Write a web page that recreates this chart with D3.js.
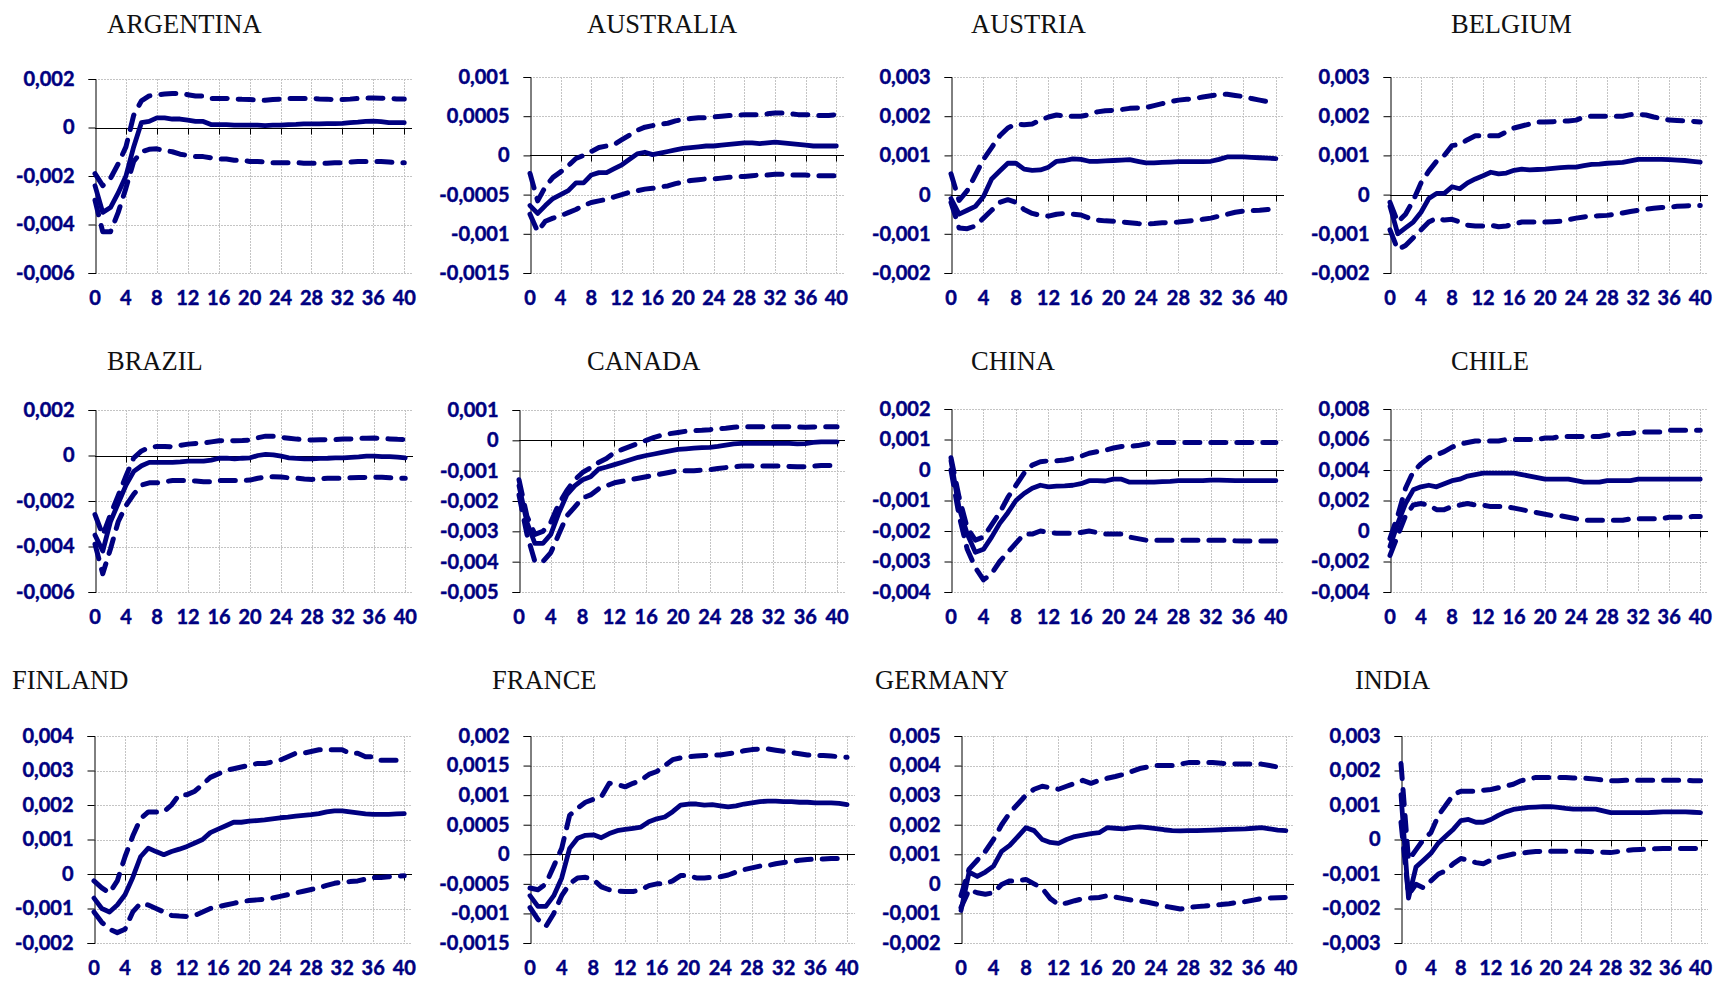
<!DOCTYPE html>
<html>
<head>
<meta charset="utf-8">
<script src="https://cdn.jsdelivr.net/npm/d3@7"></script>
<style>
  html, body { margin: 0; padding: 0; background: #fff; }
  svg { display: block; }
</style>
</head>
<body>
<svg id="chart" width="1720" height="981"></svg>
<script>
// Impulse responses by country: point estimate (solid) and confidence bands (dashed), horizons 0..40
const countries = ["ARGENTINA", "AUSTRALIA", "AUSTRIA", "BELGIUM", "BRAZIL", "CANADA", "CHINA", "CHILE", "FINLAND", "FRANCE", "GERMANY", "INDIA"];
const horizons = d3.range(0, 41);
const xTickValues = [0, 4, 8, 12, 16, 20, 24, 28, 32, 36, 40];
const yDomains = [
  [-0.006, 0.002], [-0.0015, 0.001], [-0.002, 0.003], [-0.002, 0.003],
  [-0.006, 0.002], [-0.005, 0.001], [-0.004, 0.002], [-0.004, 0.008],
  [-0.002, 0.004], [-0.0015, 0.002], [-0.002, 0.005], [-0.003, 0.003]
];
const yTickSteps = [0.002, 0.0005, 0.001, 0.001, 0.002, 0.001, 0.001, 0.002, 0.001, 0.0005, 0.001, 0.001];

const argentinaMean = [-0.0024,-0.0035,-0.0033,-0.0027,-0.002,-0.0008,0.0002,0.00025,0.0004,0.0004,0.00035,0.00035,0.0003,0.00025,0.00025,0.00012,0.00012,0.00012,0.0001,0.0001,0.0001,0.0001,0.00008,0.0001,0.0001,0.00012,0.00013,0.00015,0.00015,0.00015,0.00016,0.00016,0.00017,0.0002,0.00022,0.00025,0.00026,0.00024,0.0002,0.0002,0.0002];
const argentinaUpper = [-0.0019,-0.0024,-0.0021,-0.0015,-0.0008,0.0005,0.0011,0.0013,0.00135,0.00138,0.0014,0.0014,0.00135,0.0013,0.0013,0.0012,0.0012,0.0012,0.00118,0.00116,0.00115,0.00113,0.00112,0.00115,0.00117,0.0012,0.0012,0.0012,0.0012,0.00118,0.00117,0.00115,0.00115,0.00117,0.0012,0.00121,0.00122,0.00121,0.0012,0.00118,0.00118];
const argentinaLower = [-0.003,-0.0043,-0.0043,-0.0035,-0.0025,-0.0014,-0.001,-0.0009,-0.00088,-0.00095,-0.001,-0.0011,-0.00115,-0.0012,-0.0012,-0.00125,-0.0013,-0.0013,-0.00135,-0.00135,-0.0014,-0.0014,-0.00142,-0.00145,-0.00145,-0.00145,-0.00145,-0.00147,-0.00147,-0.00147,-0.00147,-0.00145,-0.00145,-0.00143,-0.0014,-0.0014,-0.0014,-0.0014,-0.00142,-0.00145,-0.00145];

const australiaMean = [-0.00064,-0.00074,-0.00064,-0.00055,-0.0005,-0.00045,-0.00035,-0.00035,-0.00025,-0.00022,-0.00022,-0.00017,-0.00012,-0.00005,0.00002,0.00004,0.00001,0.00003,0.00005,0.00007,0.00009,0.0001,0.00011,0.00012,0.00012,0.00013,0.00014,0.00015,0.00016,0.00016,0.00015,0.00016,0.00017,0.00016,0.00015,0.00014,0.00013,0.00012,0.00012,0.00012,0.00012];
const australiaUpper = [-0.00023,-0.00058,-0.0004,-0.00028,-0.00021,-0.00013,-0.00004,0,0.00005,0.0001,0.00012,0.00014,0.0002,0.00026,0.00032,0.00036,0.00038,0.0004,0.00041,0.00044,0.00046,0.00047,0.00048,0.00048,0.00049,0.0005,0.00051,0.00051,0.00052,0.00052,0.00052,0.00053,0.00054,0.00054,0.00053,0.00052,0.00052,0.00051,0.00051,0.00051,0.00052];
const australiaLower = [-0.00075,-0.00097,-0.00084,-0.0008,-0.00077,-0.00073,-0.00069,-0.00064,-0.0006,-0.00058,-0.00056,-0.00053,-0.0005,-0.00047,-0.00045,-0.00043,-0.00042,-0.0004,-0.00039,-0.00036,-0.00034,-0.00032,-0.00031,-0.0003,-0.0003,-0.00029,-0.00028,-0.00027,-0.00027,-0.00026,-0.00025,-0.00025,-0.00024,-0.00024,-0.00025,-0.00025,-0.00025,-0.00026,-0.00026,-0.00026,-0.00026];

const austriaMean = [-0.0001,-0.0005,-0.0004,-0.0003,-0.00005,0.0004,0.0006,0.0008,0.0008,0.00065,0.00062,0.00063,0.0007,0.00085,0.00087,0.00091,0.0009,0.00085,0.00085,0.00086,0.00087,0.00088,0.00089,0.00085,0.00081,0.00081,0.00082,0.00083,0.00084,0.00084,0.00084,0.00084,0.00085,0.0009,0.00096,0.00096,0.00096,0.00095,0.00094,0.00093,0.00092];
const austriaUpper = [0.00053,-0.00015,0.0001,0.0005,0.0009,0.0012,0.0015,0.0017,0.0018,0.00178,0.0018,0.0019,0.00198,0.00203,0.002,0.002,0.002,0.00204,0.00211,0.00214,0.00215,0.00217,0.0022,0.00221,0.00222,0.00227,0.00232,0.00237,0.00241,0.00243,0.00245,0.00249,0.00252,0.00255,0.00256,0.00253,0.0025,0.00245,0.00241,0.00237,0.00234];
const austriaLower = [-0.0002,-0.00085,-0.00087,-0.0008,-0.0006,-0.0004,-0.0002,-0.00013,-0.0002,-0.00038,-0.00048,-0.00053,-0.00055,-0.0005,-0.00048,-0.0005,-0.00052,-0.0006,-0.00065,-0.00067,-0.00068,-0.0007,-0.00072,-0.00074,-0.00075,-0.00074,-0.00072,-0.00071,-0.0007,-0.00068,-0.00066,-0.00063,-0.0006,-0.00055,-0.0005,-0.00045,-0.00042,-0.00041,-0.0004,-0.00038,-0.00036];

const belgiumMean = [-0.0003,-0.001,-0.00085,-0.0007,-0.00045,-0.0001,0.00003,0.00003,0.0002,0.00015,0.0003,0.0004,0.00048,0.00057,0.00053,0.00055,0.00062,0.00065,0.00063,0.00064,0.00065,0.00067,0.00069,0.0007,0.0007,0.00074,0.00077,0.00078,0.0008,0.00081,0.00082,0.00086,0.0009,0.0009,0.0009,0.0009,0.00089,0.00088,0.00087,0.00085,0.00083];
const belgiumUpper = [-0.0002,-0.0007,-0.0005,-0.00015,0.0003,0.0006,0.00085,0.001,0.00125,0.00128,0.0014,0.0015,0.0015,0.0015,0.0015,0.0016,0.0017,0.00175,0.0018,0.00185,0.00185,0.00186,0.00187,0.00188,0.0019,0.00198,0.002,0.002,0.002,0.002,0.002,0.00204,0.00205,0.00203,0.00198,0.00194,0.0019,0.00189,0.00188,0.00187,0.00185];
const belgiumLower = [-0.0009,-0.0014,-0.0013,-0.0011,-0.0009,-0.0007,-0.0006,-0.00065,-0.00063,-0.0007,-0.00078,-0.0008,-0.0008,-0.00078,-0.00082,-0.0008,-0.00075,-0.0007,-0.0007,-0.0007,-0.0007,-0.00069,-0.00068,-0.00064,-0.0006,-0.00057,-0.00055,-0.00054,-0.00053,-0.0005,-0.00047,-0.00043,-0.0004,-0.00037,-0.00035,-0.00033,-0.00032,-0.0003,-0.00029,-0.00028,-0.00028];

const brazilMean = [-0.0035,-0.0042,-0.0029,-0.0021,-0.0013,-0.0007,-0.00045,-0.0003,-0.0003,-0.0003,-0.0003,-0.00028,-0.00025,-0.00025,-0.00025,-0.0002,-0.00012,-0.00012,-0.00015,-0.00012,-0.0001,0,0.00005,0.00003,-0.00003,-0.0001,-0.00013,-0.00015,-0.00015,-0.00013,-0.00012,-0.0001,-0.0001,-0.00008,-0.00006,-0.00003,-0.00003,-0.00005,-0.00005,-0.00007,-0.0001];
const brazilUpper = [-0.0026,-0.0035,-0.0026,-0.00175,-0.0009,-0.0001,0.0002,0.00035,0.0004,0.0004,0.00038,0.00045,0.0005,0.00053,0.00055,0.0006,0.00065,0.00066,0.00065,0.00066,0.00068,0.00078,0.00085,0.00085,0.0008,0.00076,0.00072,0.0007,0.00068,0.00069,0.0007,0.0007,0.00072,0.00073,0.00075,0.00076,0.00077,0.00075,0.00073,0.00071,0.0007];
const brazilLower = [-0.0039,-0.0052,-0.0041,-0.0029,-0.0022,-0.0017,-0.0013,-0.0012,-0.0012,-0.00115,-0.0011,-0.0011,-0.0011,-0.00112,-0.00115,-0.00115,-0.0011,-0.0011,-0.0011,-0.0011,-0.00108,-0.001,-0.00095,-0.00093,-0.00095,-0.00098,-0.001,-0.00103,-0.00105,-0.00103,-0.001,-0.001,-0.001,-0.00098,-0.00097,-0.00096,-0.00095,-0.00096,-0.00098,-0.001,-0.001];

const canadaMean = [-0.0015,-0.0027,-0.0034,-0.0034,-0.0031,-0.0024,-0.0018,-0.0015,-0.0013,-0.0012,-0.00095,-0.00088,-0.0008,-0.00072,-0.00064,-0.00056,-0.0005,-0.00045,-0.0004,-0.00035,-0.0003,-0.00028,-0.00026,-0.00024,-0.00023,-0.0002,-0.00016,-0.00012,-0.0001,-0.0001,-0.0001,-0.0001,-0.0001,-0.0001,-0.0001,-0.00012,-0.00011,-0.00007,-0.00005,-0.00005,-0.00005];
const canadaUpper = [-0.0013,-0.0025,-0.0031,-0.003,-0.0027,-0.0021,-0.00166,-0.0013,-0.00106,-0.0009,-0.00073,-0.0006,-0.0004,-0.0003,-0.0002,-0.0001,0,0.0001,0.00017,0.00022,0.00026,0.0003,0.00032,0.00033,0.00035,0.00038,0.0004,0.00043,0.00045,0.00045,0.00045,0.00045,0.00045,0.00045,0.00045,0.00044,0.00043,0.00044,0.00045,0.00045,0.00045];
const canadaLower = [-0.0018,-0.0031,-0.004,-0.004,-0.0037,-0.0031,-0.0025,-0.0022,-0.0019,-0.0018,-0.0016,-0.0015,-0.0014,-0.00135,-0.0013,-0.00125,-0.0012,-0.00115,-0.0011,-0.00105,-0.001,-0.001,-0.001,-0.00098,-0.00097,-0.00093,-0.0009,-0.00087,-0.00085,-0.00085,-0.00085,-0.00085,-0.00085,-0.00085,-0.00086,-0.00087,-0.00087,-0.00085,-0.00083,-0.00083,-0.00083];

const chinaMean = [0.0003,-0.00125,-0.0021,-0.0027,-0.0026,-0.0022,-0.00175,-0.0014,-0.001,-0.00077,-0.0006,-0.0005,-0.00055,-0.00053,-0.00052,-0.0005,-0.00045,-0.00035,-0.00035,-0.00036,-0.0003,-0.0003,-0.0004,-0.0004,-0.0004,-0.0004,-0.00038,-0.00037,-0.00035,-0.00035,-0.00035,-0.00035,-0.00033,-0.00033,-0.00034,-0.00035,-0.00035,-0.00035,-0.00035,-0.00035,-0.00035];
const chinaUpper = [0.0004,-0.0009,-0.0019,-0.0023,-0.0022,-0.0018,-0.0014,-0.0009,-0.0005,-0.0001,0.00016,0.00027,0.0003,0.0003,0.00033,0.00038,0.00045,0.00055,0.0006,0.00065,0.00072,0.00077,0.00078,0.0008,0.00085,0.0009,0.0009,0.0009,0.0009,0.0009,0.0009,0.0009,0.0009,0.0009,0.0009,0.0009,0.0009,0.0009,0.0009,0.0009,0.0009];
const chinaLower = [0,-0.0015,-0.0026,-0.0032,-0.0036,-0.0034,-0.003,-0.0027,-0.0024,-0.0021,-0.0021,-0.002,-0.00205,-0.00207,-0.00207,-0.00207,-0.00205,-0.002,-0.00205,-0.0021,-0.0021,-0.0021,-0.0022,-0.00225,-0.0023,-0.0023,-0.0023,-0.0023,-0.0023,-0.0023,-0.0023,-0.0023,-0.0023,-0.0023,-0.0023,-0.00232,-0.00233,-0.00233,-0.00233,-0.00233,-0.00233];

const chileMean = [-0.001,0.0005,0.0018,0.0027,0.0029,0.003,0.0029,0.0031,0.0033,0.0034,0.0036,0.0037,0.0038,0.0038,0.0038,0.0038,0.0038,0.0037,0.0036,0.0035,0.0034,0.0034,0.0034,0.0034,0.0033,0.0032,0.0032,0.0032,0.0033,0.0033,0.0033,0.0033,0.0034,0.0034,0.0034,0.0034,0.0034,0.0034,0.0034,0.0034,0.0034];
const chileUpper = [-0.0005,0.001,0.0028,0.0039,0.0044,0.0048,0.005,0.0052,0.0055,0.0057,0.0058,0.0059,0.0059,0.0059,0.0059,0.006,0.006,0.006,0.006,0.006,0.0061,0.0061,0.0062,0.0062,0.0062,0.0062,0.0062,0.0062,0.0063,0.0063,0.0064,0.0064,0.0065,0.0065,0.0065,0.0065,0.0066,0.0066,0.0066,0.0066,0.0066];
const chileLower = [-0.0016,-0.0003,0.001,0.0017,0.0018,0.0017,0.0014,0.0014,0.0016,0.0017,0.0018,0.0017,0.0017,0.0016,0.0016,0.0016,0.0015,0.0014,0.0013,0.0012,0.0011,0.001,0.001,0.0009,0.0008,0.0007,0.0007,0.0007,0.0007,0.0007,0.0007,0.0008,0.0008,0.0008,0.0008,0.0008,0.0009,0.0009,0.0009,0.00095,0.00095];

const finlandMean = [-0.0007,-0.001,-0.0011,-0.0009,-0.0006,-0.0001,0.0005,0.00075,0.00065,0.00056,0.00065,0.00072,0.0008,0.0009,0.001,0.0012,0.0013,0.0014,0.0015,0.0015,0.00153,0.00155,0.00157,0.0016,0.00163,0.00165,0.00168,0.0017,0.00172,0.00175,0.0018,0.00183,0.00183,0.0018,0.00177,0.00174,0.00173,0.00173,0.00173,0.00174,0.00175];
const finlandUpper = [-0.0002,-0.0004,-0.00055,-0.0002,0.0005,0.0011,0.0016,0.0018,0.0018,0.0018,0.002,0.0023,0.0023,0.0024,0.0026,0.0028,0.0029,0.003,0.00305,0.0031,0.00315,0.0032,0.0032,0.00325,0.0033,0.0034,0.0035,0.0035,0.00355,0.0036,0.0036,0.0036,0.0036,0.0035,0.0035,0.0034,0.0034,0.0033,0.0033,0.0033,0.0033];
const finlandLower = [-0.0011,-0.0014,-0.0016,-0.0017,-0.0016,-0.0011,-0.00085,-0.0009,-0.001,-0.0011,-0.0012,-0.00122,-0.00123,-0.0012,-0.0011,-0.001,-0.00095,-0.0009,-0.00085,-0.0008,-0.00077,-0.00075,-0.00073,-0.0007,-0.00065,-0.0006,-0.00055,-0.0005,-0.00045,-0.0004,-0.00033,-0.00027,-0.00023,-0.00022,-0.0002,-0.00015,-0.0001,-0.0001,-0.00008,-0.00007,-0.00005];

const franceMean = [-0.0007,-0.00088,-0.00088,-0.0007,-0.0004,0.0001,0.00027,0.00032,0.00033,0.00028,0.00035,0.0004,0.00042,0.00044,0.00046,0.00055,0.0006,0.00063,0.00072,0.00083,0.00085,0.00085,0.00083,0.00084,0.00082,0.0008,0.00082,0.00085,0.00087,0.00089,0.0009,0.0009,0.00089,0.00089,0.00088,0.00088,0.00087,0.00087,0.00087,0.00086,0.00084];
const franceUpper = [-0.00057,-0.0006,-0.0005,-0.0002,0.0001,0.00066,0.00078,0.00088,0.00093,0.00097,0.0012,0.00118,0.00114,0.0012,0.00125,0.00135,0.0014,0.0015,0.0016,0.00163,0.00165,0.00166,0.00167,0.00168,0.00168,0.0017,0.00172,0.00175,0.00177,0.00178,0.00178,0.00176,0.00174,0.00172,0.0017,0.00168,0.00167,0.00167,0.00166,0.00165,0.00164];
const franceLower = [-0.0009,-0.0011,-0.00122,-0.001,-0.0007,-0.0005,-0.0004,-0.00039,-0.00043,-0.00055,-0.0006,-0.00062,-0.00063,-0.00063,-0.0006,-0.00053,-0.0005,-0.0005,-0.00045,-0.00036,-0.00036,-0.0004,-0.0004,-0.00039,-0.00038,-0.00035,-0.0003,-0.00026,-0.00023,-0.0002,-0.00019,-0.00016,-0.00014,-0.00012,-0.0001,-0.00009,-0.00008,-0.00008,-0.00007,-0.00007,-0.00007];

const germanyMean = [-0.0009,0.0004,0.00025,0.0004,0.0006,0.0011,0.0013,0.0016,0.0019,0.0018,0.0015,0.0014,0.00137,0.0015,0.0016,0.00165,0.0017,0.00173,0.0019,0.00188,0.00186,0.0019,0.00193,0.0019,0.00187,0.00183,0.0018,0.00179,0.0018,0.0018,0.00181,0.00182,0.00183,0.00184,0.00185,0.00186,0.00188,0.0019,0.00186,0.00182,0.0018];
const germanyUpper = [-0.0004,0.0005,0.0008,0.0011,0.0015,0.002,0.0024,0.0027,0.003,0.0032,0.0033,0.00325,0.0032,0.0033,0.0034,0.0035,0.0034,0.0035,0.00357,0.00363,0.0037,0.0038,0.0039,0.00395,0.004,0.004,0.004,0.00405,0.0041,0.0041,0.0041,0.0041,0.00408,0.00406,0.00405,0.00405,0.00405,0.00405,0.004,0.00395,0.0039];
const germanyLower = [-0.0008,-0.0002,-0.0003,-0.00035,-0.0003,-0.00002,0.0001,0.0001,0.00015,0,-0.00015,-0.0005,-0.0007,-0.00065,-0.00057,-0.0005,-0.00048,-0.00046,-0.0004,-0.00045,-0.0005,-0.00055,-0.00058,-0.00062,-0.00068,-0.00075,-0.0008,-0.00085,-0.0008,-0.00077,-0.00075,-0.00072,-0.0007,-0.00067,-0.00063,-0.0006,-0.00055,-0.0005,-0.00048,-0.00047,-0.00046];

const indiaMean = [0.0013,-0.0017,-0.0008,-0.0006,-0.0004,-0.0001,0.0001,0.0003,0.00055,0.00058,0.0005,0.0005,0.00058,0.0007,0.0008,0.00087,0.0009,0.00093,0.00094,0.00095,0.00095,0.00093,0.0009,0.00088,0.00088,0.00088,0.00088,0.00083,0.00078,0.00078,0.00078,0.00078,0.00078,0.00078,0.00079,0.0008,0.0008,0.0008,0.0008,0.00079,0.00078];
const indiaUpper = [0.0022,-0.0006,-0.0003,0,0.0002,0.0007,0.001,0.0013,0.0014,0.0014,0.0014,0.00143,0.00145,0.0015,0.00155,0.0016,0.0017,0.00175,0.0018,0.0018,0.0018,0.0018,0.0018,0.00178,0.00178,0.00177,0.00175,0.00172,0.0017,0.0017,0.00172,0.00172,0.00172,0.00172,0.00172,0.00172,0.00172,0.00172,0.00172,0.0017,0.0017];
const indiaLower = [0.0005,-0.0016,-0.0013,-0.0014,-0.0012,-0.001,-0.0009,-0.0007,-0.00055,-0.0006,-0.00067,-0.0007,-0.0006,-0.00052,-0.00047,-0.00042,-0.0004,-0.00037,-0.00035,-0.00034,-0.00034,-0.00034,-0.00034,-0.00034,-0.00034,-0.00035,-0.00036,-0.00037,-0.00038,-0.00035,-0.00032,-0.0003,-0.00029,-0.00028,-0.00027,-0.00026,-0.00026,-0.00026,-0.00026,-0.00026,-0.00026];

const means  = [argentinaMean, australiaMean, austriaMean, belgiumMean, brazilMean, canadaMean, chinaMean, chileMean, finlandMean, franceMean, germanyMean, indiaMean];
const uppers = [argentinaUpper, australiaUpper, austriaUpper, belgiumUpper, brazilUpper, canadaUpper, chinaUpper, chileUpper, finlandUpper, franceUpper, germanyUpper, indiaUpper];
const lowers = [argentinaLower, australiaLower, austriaLower, belgiumLower, brazilLower, canadaLower, chinaLower, chileLower, finlandLower, franceLower, germanyLower, indiaLower];

// Panel placement on the page (plot rectangle and title anchor)
const panelBoxes = [
  {left: 95,   right: 412,  top: 79,  bottom: 273, titleX: 107,  titleY: 33},
  {left: 530,  right: 844,  top: 77,  bottom: 273, titleX: 587,  titleY: 33},
  {left: 951,  right: 1284, top: 77,  bottom: 273, titleX: 971,  titleY: 33},
  {left: 1390, right: 1708, top: 77,  bottom: 273, titleX: 1451, titleY: 33},
  {left: 95,   right: 413,  top: 410, bottom: 592, titleX: 107,  titleY: 370},
  {left: 519,  right: 845,  top: 410, bottom: 592, titleX: 587,  titleY: 370},
  {left: 951,  right: 1284, top: 409, bottom: 592, titleX: 971,  titleY: 370},
  {left: 1390, right: 1708, top: 409, bottom: 592, titleX: 1451, titleY: 370},
  {left: 94,   right: 412,  top: 736, bottom: 943, titleX: 12,   titleY: 689},
  {left: 530,  right: 855,  top: 736, bottom: 943, titleX: 492,  titleY: 689},
  {left: 961,  right: 1294, top: 736, bottom: 943, titleX: 875,  titleY: 689},
  {left: 1401, right: 1708, top: 736, bottom: 943, titleX: 1355, titleY: 689}
];

const NAVY = "#000080";
const locale = d3.formatLocale({decimal: ",", thousands: ".", grouping: [3], currency: ["", ""], minus: "-"});
const fmt = locale.format("~g");

const svg = d3.select("#chart");

function styleTickText(sel) {
  sel.attr("fill", NAVY)
    .attr("stroke", NAVY)
    .attr("stroke-width", 0.45)
    .attr("font-family", "Lato, 'Open Sans', sans-serif")
    .attr("font-weight", 700)
    .attr("font-size", 20);
}

countries.forEach((name, k) => {
  const box = panelBoxes[k];
  const [lo, hi] = yDomains[k];
  const step = yTickSteps[k];
  const nTicks = Math.round((hi - lo) / step);
  const yTicks = d3.range(nTicks + 1).map(i => +(lo + i * step).toFixed(6) + 0);

  const x = d3.scaleLinear().domain([0, 41]).range([box.left, box.right]);
  const y = d3.scaleLinear().domain([lo, hi]).range([box.bottom, box.top]);

  const g = svg.append("g").attr("class", "panel");

  // title
  g.append("text")
    .attr("x", box.titleX).attr("y", box.titleY)
    .attr("font-family", "'Liberation Serif', 'Times New Roman', serif")
    .attr("font-size", 26.5)
    .attr("fill", "#111")
    .text(name);

  // horizontal grid
  g.append("g").selectAll("line")
    .data(yTicks.filter(v => v !== 0))
    .join("line")
    .attr("x1", box.left).attr("x2", box.right)
    .attr("y1", d => Math.round(y(d)) + 0.5).attr("y2", d => Math.round(y(d)) + 0.5)
    .attr("stroke", "#c4c4c4").attr("stroke-width", 1).attr("stroke-dasharray", "2,1");

  // vertical grid
  g.append("g").selectAll("line")
    .data(xTickValues.filter(v => v !== 0))
    .join("line")
    .attr("x1", d => Math.round(x(d)) + 0.5).attr("x2", d => Math.round(x(d)) + 0.5)
    .attr("y1", box.top).attr("y2", box.bottom)
    .attr("stroke", "#c4c4c4").attr("stroke-width", 1).attr("stroke-dasharray", "2,1");

  // y axis
  const yAxis = d3.axisLeft(y).tickValues(yTicks).tickFormat(fmt).tickSize(7).tickPadding(14);
  const ya = g.append("g").attr("transform", `translate(${Math.round(box.left) + 0.5},0)`).call(yAxis);
  ya.select(".domain").attr("stroke", "#000").attr("stroke-width", 1);
  ya.selectAll(".tick line").attr("stroke", "#000");
  ya.selectAll(".tick text").call(styleTickText);

  // zero line with category ticks
  const zeroY = Math.round(y(0)) + 0.5;
  g.append("line")
    .attr("x1", box.left).attr("x2", box.right)
    .attr("y1", zeroY).attr("y2", zeroY)
    .attr("stroke", "#000").attr("stroke-width", 1);
  g.append("g").selectAll("line")
    .data(xTickValues.filter(v => v !== 0))
    .join("line")
    .attr("x1", d => Math.round(x(d)) + 0.5).attr("x2", d => Math.round(x(d)) + 0.5)
    .attr("y1", zeroY).attr("y2", zeroY + 6)
    .attr("stroke", "#000").attr("stroke-width", 1);

  // x tick labels below the plot
  g.append("g").selectAll("text")
    .data(xTickValues)
    .join("text")
    .attr("x", d => x(d)).attr("y", box.bottom + 32)
    .attr("text-anchor", "middle")
    .call(styleTickText)
    .text(d => d);

  const line = d3.line().x((d, i) => x(horizons[i])).y(d => y(d));

  [uppers[k], lowers[k]].forEach(series => {
    g.append("path")
      .attr("d", line(series))
      .attr("fill", "none")
      .attr("stroke", NAVY)
      .attr("stroke-width", 5)
      .attr("stroke-linecap", "round")
      .attr("stroke-linejoin", "round")
      .attr("stroke-dasharray", "15,11");
  });

  g.append("path")
    .attr("d", line(means[k]))
    .attr("fill", "none")
    .attr("stroke", NAVY)
    .attr("stroke-width", 4.8)
    .attr("stroke-linecap", "round")
    .attr("stroke-linejoin", "round");
});
</script>
</body>
</html>
